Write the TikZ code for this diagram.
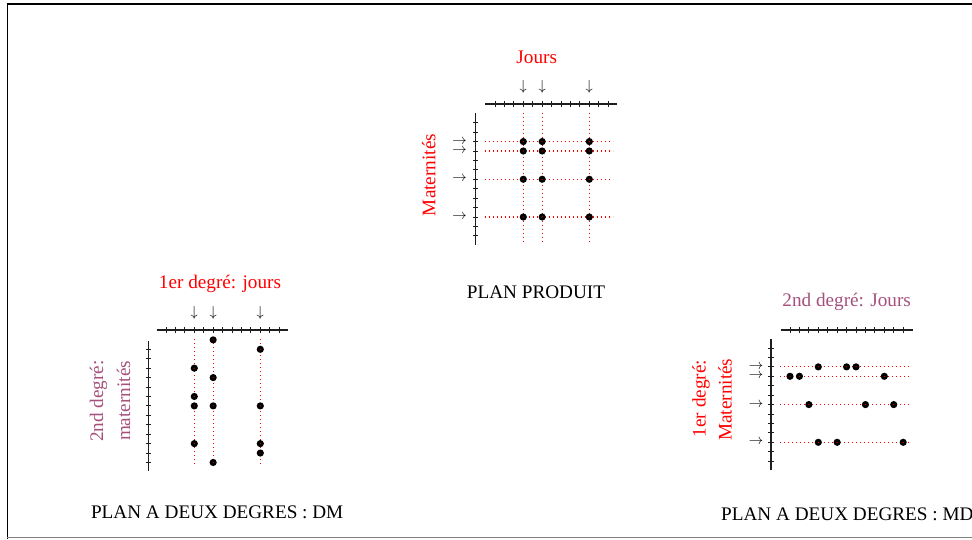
\documentclass[tikz,border=0pt]{standalone}
\usepackage{fontspec}
\setmainfont{Liberation Serif}
\definecolor{mauve}{RGB}{165,80,125}
\definecolor{axisgray}{RGB}{30,30,30}
\definecolor{guidered}{RGB}{255,0,0}
\begin{document}
\begin{tikzpicture}[x=1pt,y=-1pt,
  lbl/.style={font=\fontsize{19.2}{23}\selectfont, inner sep=0pt},
  arr/.style={font=\fontsize{15}{17}\selectfont, inner sep=0pt, text=black},
  axis/.style={line width=1.1pt, color=axisgray},
  tck/.style={line width=0.8pt, color=axisgray},
  guide/.style={draw=guidered, line width=1.25pt, dash pattern=on 1.4pt off 2.6pt},
  dot/.style={circle, fill=black, inner sep=0pt, minimum size=7.2pt},
  dotc/.style={circle, fill=red!80!black, inner sep=0pt, minimum size=1.3pt},
]
\useasboundingbox (0,0) rectangle (972,539);
% frame
\draw[color=black, line width=1.6pt] (7.3,539) -- (7.3,3.8) -- (975,3.8);
\draw[color=gray, line width=1pt] (7.3,537.8) -- (975,537.8);

\def\stp{9.43}

% ================= axes =================
% centre
\draw[axis] (485,104) -- (617.3,104);
\foreach \k in {0,...,12} \draw[tck] ({495+\k*\stp},101.3) -- ++(0,5.4);
\draw[axis] (475.7,112.7) -- (475.7,245);
\foreach \k in {0,...,12} \draw[tck] (473,{122.7+\k*\stp}) -- ++(5.4,0);
% gauche
\draw[axis] (156.7,330) -- (288.3,330);
\foreach \k in {0,...,12} \draw[tck] ({166+\k*\stp},327.3) -- ++(0,5.4);
\draw[axis] (148.3,341) -- (148.3,471);
\foreach \k in {0,...,12} \draw[tck] (145.6,{349.3+\k*\stp}) -- ++(5.4,0);
% droite
\draw[axis] (780.7,330) -- (912.7,330);
\foreach \k in {0,...,12} \draw[tck] ({790+\k*\stp},327.3) -- ++(0,5.4);
\draw[axis] (771,339.3) -- (771,470);
\foreach \k in {0,...,12} \draw[tck] (768.3,{348+\k*\stp}) -- ++(5.4,0);

% ================= texts and arrows =================
\foreach \col in {3,5,10} \node[arr] (pa-\col) at ({495+\col*\stp},87.3) {$\downarrow$};
\foreach \row in {2,3,6,10} \node[arr] (pb-\row) at (459.5,{122.7+\row*\stp}) {$\rightarrow$};
\node[lbl, text=red, anchor=base] (pjours) at (536.7,63.3) {Jours};
\node[lbl, text=red, anchor=base, rotate=90] (pmat) at (435.3,175) {Maternités};
\node[lbl, anchor=base] (ptitle) at (536,298.3) {PLAN PRODUIT};

\foreach \col in {3,5,10} \node[arr] (la-\col) at ({166+\col*\stp},313.3) {$\downarrow$};
\node[lbl, text=red, anchor=base] (ljours) at (220,288.3) {1er degré: jours};
\node[lbl, text=mauve, anchor=base, rotate=90] (lmat1) at (103,401) {2nd degré:};
\node[lbl, text=mauve, anchor=base, rotate=90] (lmat2) at (130,401) {maternités};
\node[lbl, anchor=base] (ltitle) at (217.2,518.3) {PLAN A DEUX DEGRES : DM};

\foreach \row in {2,3,6,10} \node[arr] (rb-\row) at (756,{348+\row*\stp}) {$\rightarrow$};
\node[lbl, text=mauve, anchor=base] (rjours) at (846.7,306) {2nd degré: Jours};
\node[lbl, text=red, anchor=base, rotate=90] (rmat1) at (705.5,398.5) {1er degré:};
\node[lbl, text=red, anchor=base, rotate=90] (rmat2) at (731.5,399.7) {Maternités};
\node[lbl, anchor=base west] (rtitle) at (721,520) {PLAN A DEUX DEGRES : MD};

% ================= guides =================
\foreach \row in {2,3,6,10} \draw[guide] (780,{348+\row*\stp}) -- (908.3,{348+\row*\stp});
\foreach \row in {2,3,6,10} \draw[guide] (485,{122.7+\row*\stp}) -- (613,{122.7+\row*\stp});
\foreach \col in {3,5,10} \draw[guide] ({495+\col*\stp},112.7) -- ({495+\col*\stp},241.7);
\foreach \col in {3,5,10} \draw[guide] ({166+\col*\stp},339) -- ({166+\col*\stp},466.7);

% ================= dots =================
\foreach \col in {3,5,10} \foreach \row in {2,3,6,10}{
  \node[dot] (p-\col-\row) at ({495+\col*\stp},{122.7+\row*\stp}) {};
  \node[dotc] (pc-\col-\row) at (p-\col-\row.center) {};}
\foreach \col/\row [count=\i] in {5/-1,10/0,3/2,5/3,3/5,3/6,5/6,10/6,3/10,10/10,10/11,5/12}{
  \node[dot] (l-\i) at ({166+\col*\stp},{349.3+\row*\stp}) {};
  \node[dotc] (lc-\i) at (l-\i.center) {};}
\foreach \col/\row [count=\i] in {3/2,6/2,7/2,0/3,1/3,10/3,2/6,8/6,11/6,3/10,5/10,12/10}{
  \node[dot] (r-\i) at ({790+\col*\stp},{348+\row*\stp}) {};
  \node[dotc] (rc-\i) at (r-\i.center) {};}
\end{tikzpicture}
\end{document}
